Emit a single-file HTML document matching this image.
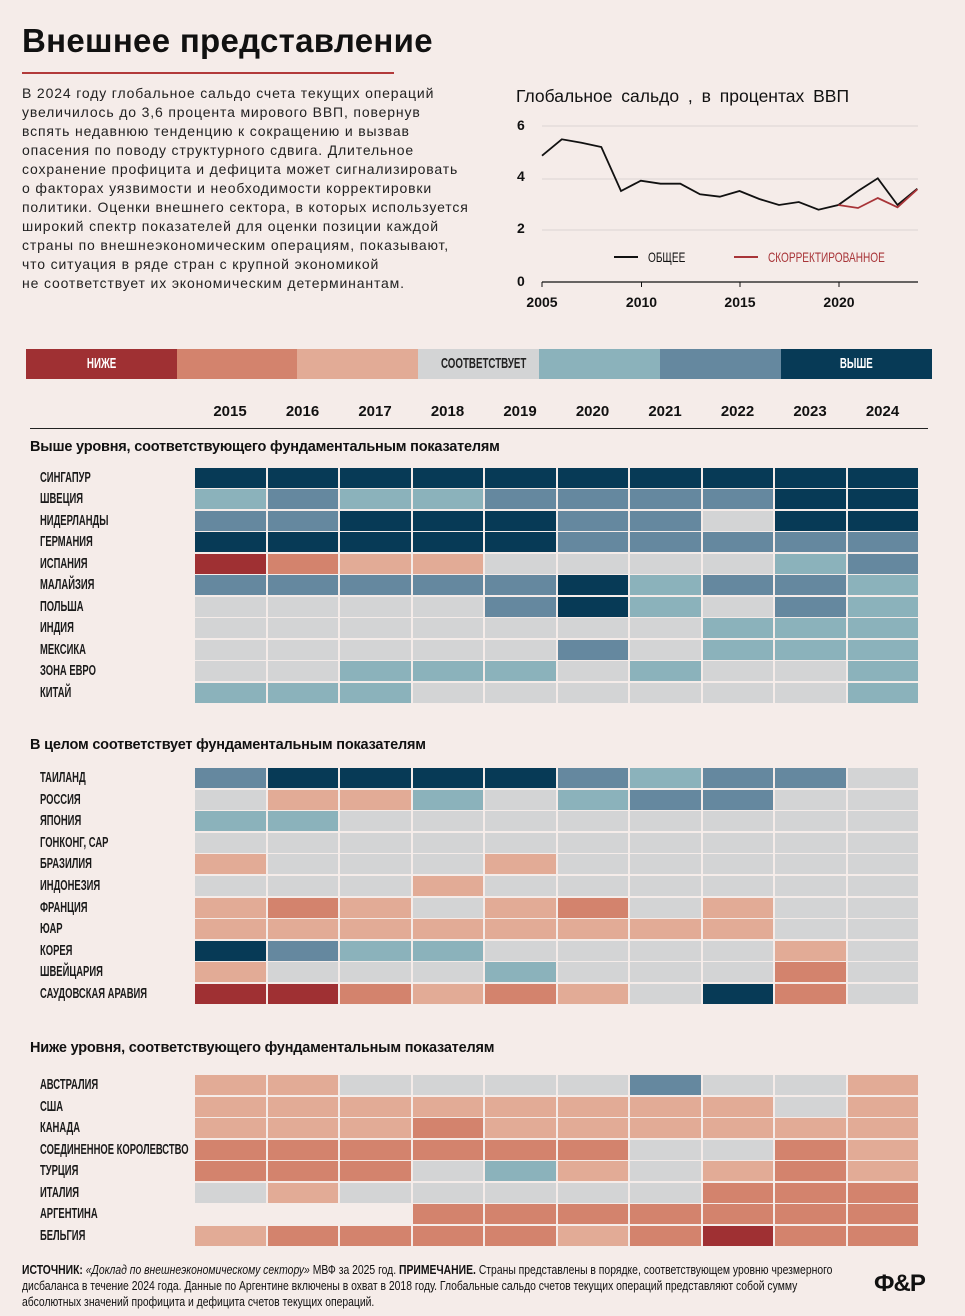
<!DOCTYPE html>
<html><head><meta charset="utf-8">
<style>
*{margin:0;padding:0;box-sizing:border-box}
body{width:965px;height:1316px;background:#f5ece9;font-family:"Liberation Sans","DejaVu Sans",sans-serif;color:#111;position:relative;overflow:hidden}
.a{position:absolute;white-space:nowrap}
.title{left:22px;top:22px;font-size:33px;font-weight:bold;letter-spacing:0.3px}
.rule{left:22px;top:72px;width:372px;height:1.5px;background:#b23a3a}
.para{left:22px;top:84px;font-size:14px;line-height:19px;color:#222;letter-spacing:0.85px}
.cond{display:inline-block;transform:scaleX(0.65);transform-origin:left center}
.lbl{position:absolute;left:40px;font-size:14.5px;font-weight:bold;color:#1a1a1a;height:20px;line-height:20px}
.cell{position:absolute;height:20px;width:70.5px}
.N{background:#073a56}.B{background:#65889f}.L{background:#8bb2bb}.G{background:#d3d4d5}.S{background:#e2ab96}.R{background:#d3836d}.D{background:#9f3033}
.sec{position:absolute;left:30px;font-size:14.5px;font-weight:bold;letter-spacing:-0.2px}
.yr{position:absolute;top:403px;font-size:15px;font-weight:bold;width:72px;text-align:center}
.leg{position:absolute;top:349px;height:30px;line-height:30px;text-align:center;font-size:15px;font-weight:bold}
.foot{left:22px;top:1262px;font-size:12.5px;line-height:16px}
</style></head><body>
<div class="a title">Внешнее представление</div>
<div class="a rule"></div>
<div class="a para">В 2024 году глобальное сальдо счета текущих операций<br>увеличилось до 3,6 процента мирового ВВП, повернув<br>вспять недавнюю тенденцию к сокращению и вызвав<br>опасения по поводу структурного сдвига. Длительное<br>сохранение профицита и дефицита может сигнализировать<br>о факторах уязвимости и необходимости корректировки<br>политики. Оценки внешнего сектора, в которых используется<br>широкий спектр показателей для оценки позиции каждой<br>страны по внешнеэкономическим операциям, показывают,<br>что ситуация в ряде стран с крупной экономикой<br>не соответствует их экономическим детерминантам.</div>

<svg class="a" style="left:0;top:0" width="965" height="320">
<text x="516" y="102" font-size="17.5" font-family="Liberation Sans" fill="#111" word-spacing="4">Глобальное сальдо , в процентах ВВП</text>
<g stroke="#dcd4d2" stroke-width="1"><line x1="542" y1="126" x2="918" y2="126"/><line x1="542" y1="179" x2="918" y2="179"/><line x1="542" y1="230" x2="918" y2="230"/></g>
<line x1="542" y1="282" x2="918" y2="282" stroke="#111" stroke-width="1.2"/>
<g stroke="#111" stroke-width="1"><line x1="542" y1="282" x2="542" y2="287"/><line x1="641.5" y1="282" x2="641.5" y2="287"/><line x1="740" y1="282" x2="740" y2="287"/><line x1="839" y1="282" x2="839" y2="287"/></g>
<g font-size="14" font-weight="bold" font-family="Liberation Sans" fill="#111">
<text x="517" y="130">6</text><text x="517" y="181">4</text><text x="517" y="233">2</text><text x="517" y="286">0</text>
<text x="542" y="307" text-anchor="middle">2005</text><text x="641.5" y="307" text-anchor="middle">2010</text><text x="740" y="307" text-anchor="middle">2015</text><text x="839" y="307" text-anchor="middle">2020</text>
</g>
<polyline fill="none" stroke="#111" stroke-width="1.8" points="542,155.7 561.8,139.3 581.5,142.7 601.3,147 621,191 640.8,180.7 660.5,183.7 680.3,183.7 700,194.3 719.8,196.7 739.5,191 759.3,199 779,205 798.8,202 818.5,209.7 838.3,205 858,191 877.8,178.3 897.5,205 917.3,188.7"/>
<polyline fill="none" stroke="#a83438" stroke-width="1.8" points="838.3,205 858,208 877.8,198 897.5,207.3 917.3,189.3"/>
<line x1="614" y1="257" x2="638" y2="257" stroke="#111" stroke-width="2"/>
<text x="648" y="262" font-size="14" font-family="Liberation Sans" fill="#111" transform="translate(648,0) scale(0.72,1) translate(-648,0)">ОБЩЕЕ</text>
<line x1="734" y1="257" x2="758" y2="257" stroke="#a83438" stroke-width="2"/>
<text x="768" y="262" font-size="14" font-family="Liberation Sans" fill="#a83438" transform="translate(768,0) scale(0.72,1) translate(-768,0)">СКОРРЕКТИРОВАННОЕ</text>
</svg>

<div class="leg D" style="left:26px;width:151px;color:#fff"><span class="cond" style="transform-origin:center">НИЖЕ</span></div>
<div class="leg R" style="left:177px;width:120px"></div>
<div class="leg S" style="left:297px;width:121px"></div>
<div class="leg G" style="left:418px;width:121px;color:#222"><span class="cond" style="transform-origin:center">СООТВЕТСТВУЕТ</span></div>
<div class="leg L" style="left:539px;width:121px"></div>
<div class="leg B" style="left:660px;width:121px"></div>
<div class="leg N" style="left:781px;width:151px;color:#fff"><span class="cond" style="transform-origin:center">ВЫШЕ</span></div>

<div id="years"></div>
<div class="a" style="left:30px;top:428px;width:898px;height:1px;background:#222"></div>
<div class="sec" style="top:439px">Выше уровня, соответствующего фундаментальным показателям</div>
<div class="sec" style="top:737px">В целом соответствует фундаментальным показателям</div>
<div class="sec" style="top:1040px">Ниже уровня, соответствующего фундаментальным показателям</div>
<div id="grid"></div>

<div class="a foot"><span class="cond" style="transform:scaleX(0.83)"><b>ИСТОЧНИК:</b> <i>«Доклад по внешнеэкономическому сектору»</i> МВФ за 2025 год. <b>ПРИМЕЧАНИЕ.</b> Страны представлены в порядке, соответствующем уровню чрезмерного<br>дисбаланса в течение 2024 года. Данные по Аргентине включены в охват в 2018 году. Глобальные сальдо счетов текущих операций представляют собой сумму<br>абсолютных значений профицита и дефицита счетов текущих операций.</span></div>
<div class="a" style="left:874px;top:1270px;font-size:24px;font-weight:bold;letter-spacing:-1px">Ф&amp;Р</div>

<script>
var y=document.getElementById('years'),h='';
for(var i=0;i<10;i++)h+='<div class="yr" style="left:'+(194+i*72.5)+'px">'+(2015+i)+'</div>';
y.innerHTML=h;
var secs=[[468,21.45,[["СИНГАПУР","NNNNNNNNNN"],["ШВЕЦИЯ","LBLLBBBBNN"],["НИДЕРЛАНДЫ","BBNNNBBGNN"],["ГЕРМАНИЯ","NNNNNBBBBB"],["ИСПАНИЯ","DRSSGGGGLB"],["МАЛАЙЗИЯ","BBBBBNLBBL"],["ПОЛЬША","GGGGBNLGBL"],["ИНДИЯ","GGGGGGGLLL"],["МЕКСИКА","GGGGGBGLLL"],["ЗОНА ЕВРО","GGLLLGLGGL"],["КИТАЙ","LLLGGGGGGL"]]],
[768,21.6,[["ТАИЛАНД","BNNNNBLBBG"],["РОССИЯ","GSSLGLBBGG"],["ЯПОНИЯ","LLGGGGGGGG"],["ГОНКОНГ, САР","GGGGGGGGGG"],["БРАЗИЛИЯ","SGGGSGGGGG"],["ИНДОНЕЗИЯ","GGGSGGGGGG"],["ФРАНЦИЯ","SRSGSRGSGG"],["ЮАР","SSSSSSSSGG"],["КОРЕЯ","NBLLGGGGSG"],["ШВЕЙЦАРИЯ","SGGGLGGGRG"],["САУДОВСКАЯ АРАВИЯ","DDRSRSGNRG"]]],
[1075,21.5,[["АВСТРАЛИЯ","SSGGGGBGGS"],["США","SSSSSSSSGS"],["КАНАДА","SSSRSSSSSS"],["СОЕДИНЕННОЕ КОРОЛЕВСТВО","RRRRRRGGRS"],["ТУРЦИЯ","RRRGLSGSRS"],["ИТАЛИЯ","GSGGGGGRRR"],["АРГЕНТИНА","___RRRRRRR"],["БЕЛЬГИЯ","SRRRRSRDRR"]]]];
var g='';
secs.forEach(function(s){s[2].forEach(function(r,j){var t=s[0]+j*s[1];
g+='<div class="lbl" style="top:'+t+'px"><span class="cond">'+r[0]+'</span></div>';
for(var i=0;i<10;i++){var c=r[1][i];if(c=='_')continue;g+='<div class="cell '+c+'" style="top:'+t+'px;left:'+(195+i*72.5)+'px"></div>';}
});});
document.getElementById('grid').innerHTML=g;
</script>
</body></html>
